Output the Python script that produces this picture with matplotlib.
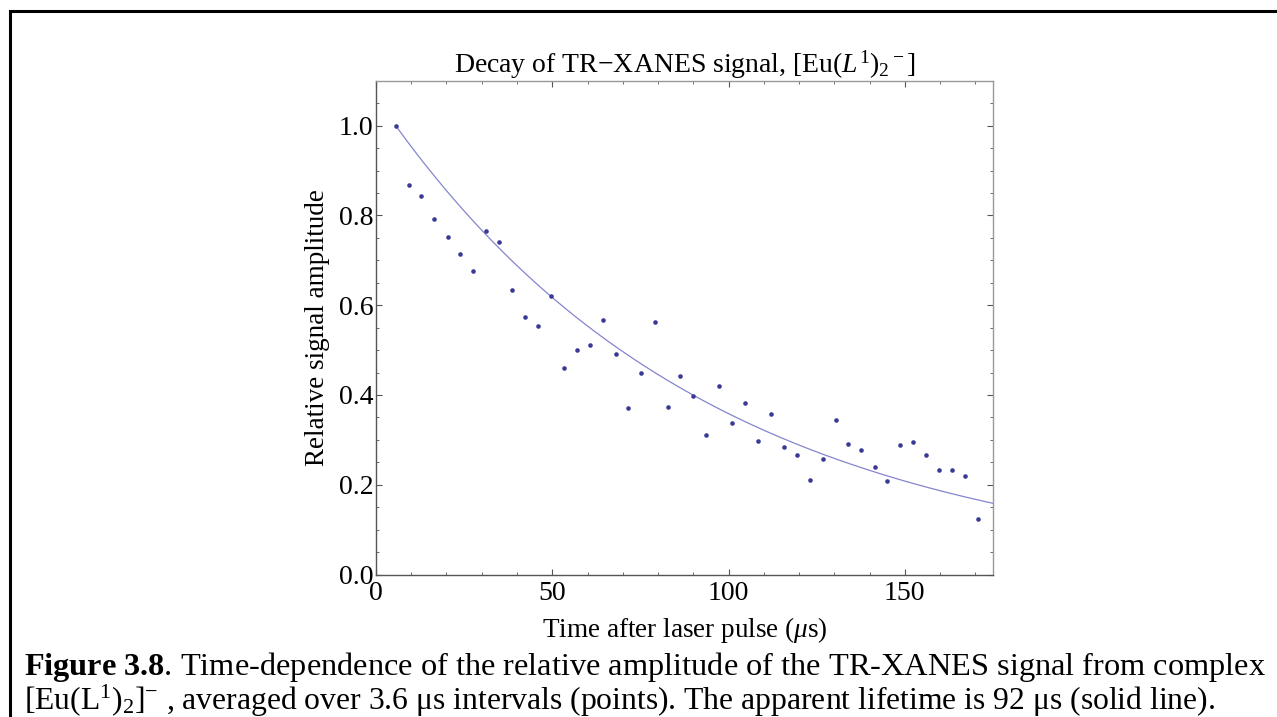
import numpy as np
import matplotlib
matplotlib.use("Agg")
import matplotlib.pyplot as plt
from matplotlib.patches import Rectangle

matplotlib.rcParams.update({
    'font.family': 'Liberation Serif',
    'mathtext.fontset': 'custom',
    'mathtext.rm': 'Liberation Serif',
    'mathtext.it': 'Liberation Serif:italic',
    'mathtext.bf': 'Liberation Serif:bold',
})

# time after the laser pulse (us), one point per 3.6 us bin
t_points = [5.6, 9.3, 12.9, 16.6, 20.3, 23.9, 27.6, 31.3, 35.0, 38.6,
            42.3, 46.0, 49.6, 53.3, 57.0, 60.6, 64.3, 68.0, 71.6, 75.3,
            79.0, 82.7, 86.3, 90.0, 93.7, 97.3, 101.0, 104.7, 108.3, 112.0,
            115.7, 119.3, 123.0, 126.7, 130.4, 134.0, 137.7, 141.4, 145.0, 148.7,
            152.4, 156.0, 159.7, 163.4, 167.0, 170.7]
amplitude = [1.00, 0.868, 0.844, 0.792, 0.753, 0.714, 0.676, 0.765, 0.741, 0.633,
             0.573, 0.554, 0.621, 0.461, 0.501, 0.511, 0.567, 0.491, 0.370, 0.450,
             0.563, 0.373, 0.442, 0.398, 0.311, 0.420, 0.338, 0.383, 0.298, 0.358,
             0.283, 0.267, 0.211, 0.258, 0.345, 0.290, 0.278, 0.240, 0.209, 0.289,
             0.296, 0.267, 0.233, 0.233, 0.220, 0.124]

lifetime = 92.0   # us, apparent lifetime (solid line)
t_start = t_points[0]
x_max = 175
y_max = 1.1

fig = plt.figure(figsize=(12.77, 7.17), dpi=100)

# page border seen around the figure
fig.patches.append(Rectangle((0.0078, -0.05), 1.2, 1.034, transform=fig.transFigure,
                             fill=False, edgecolor='black', linewidth=2.2))

ax = fig.add_axes([0.2944, 0.1987, 0.4832, 0.6887])

t_line = np.linspace(t_start, x_max, 300)
ax.plot(t_line, np.exp(-(t_line - t_start) / lifetime), color='#8585cf', linewidth=0.9)
ax.plot(t_points, amplitude, 'o', color='#3a3a96', markersize=3.3, markeredgewidth=0)

ax.set_xlim(0, x_max)
ax.set_ylim(0, y_max)
ax.set_xticks([0, 50, 100, 150])
ax.set_xticks(np.arange(0, 176, 10), minor=True)
ax.set_yticks([0.0, 0.2, 0.4, 0.6, 0.8, 1.0])
ax.set_yticklabels(["0.0", "0.2", "0.4", "0.6", "0.8", "1.0"])
ax.set_yticks(np.arange(0, 1.1, 0.05), minor=True)

ax.tick_params(which='both', direction='in', top=True, right=True, labelsize=20,
               color='#555555')
ax.tick_params(axis='x', pad=5)
ax.tick_params(axis='y', pad=2)
ax.tick_params(which='major', length=4, width=0.8)
ax.tick_params(which='minor', length=2, width=0.6)
for side in ['left', 'bottom']:
    ax.spines[side].set_color('#555555')
for side in ['top', 'right']:
    ax.spines[side].set_color('#999999')
for s in ax.spines.values():
    s.set_linewidth(1.0)

ax.set_xlabel("Time after laser pulse ($\\mu$s)", fontsize=19.5, labelpad=6)
ax.set_ylabel("Relative signal amplitude", fontsize=19.5, labelpad=6)
ax.set_title("Decay of TR\u2212XANES signal, [Eu($L^1$)$_2$$^-$]", fontsize=20, pad=3)

fig.text(0.019, 0.07, "$\\mathbf{Figure\\ 3.8}$. Time-dependence of the relative amplitude "
         "of the TR-XANES signal from complex", fontsize=23.3, va='center')
fig.text(0.019, 0.022, "[Eu(L$^1$)$_2$]$^{-}$ , averaged over 3.6 \u03bcs intervals (points). "
         "The apparent lifetime is 92 \u03bcs (solid line).", fontsize=22.8, va='center')

fig.savefig("out.png", dpi=100)
